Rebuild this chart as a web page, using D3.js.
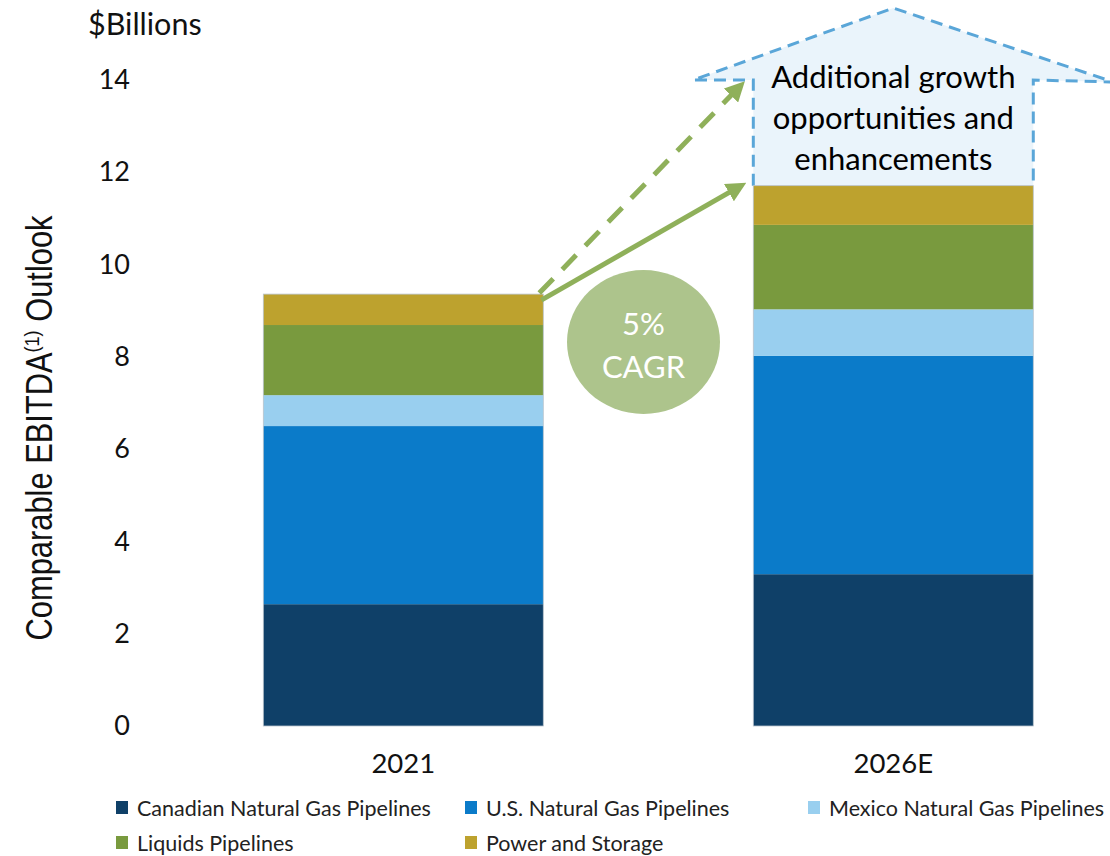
<!DOCTYPE html>
<html>
<head>
<meta charset="utf-8">
<script src="https://cdn.jsdelivr.net/npm/d3@7"></script>
<style>
  html, body { margin: 0; padding: 0; background: #fff; }
  svg { display: block; }
</style>
</head>
<body>
<svg id="chart" width="1110" height="856"></svg>
<script>
// Comparable EBITDA outlook by business segment ($ billions)
const years = ["2021", "2026E"];
const segments = [
  "Canadian Natural Gas Pipelines",
  "U.S. Natural Gas Pipelines",
  "Mexico Natural Gas Pipelines",
  "Liquids Pipelines",
  "Power and Storage"
];
const canadianGas = [2.64, 3.29];
const usGas       = [3.86, 4.73];
const mexicoGas   = [0.67, 1.01];
const liquids     = [1.52, 1.83];
const power       = [0.67, 0.85];
const yTicks = [0, 2, 4, 6, 8, 10, 12, 14];
const segColors = ["#0f4068", "#0b7bc9", "#99cfef", "#799a3e", "#bda22e"];
const growthText = ["Additional growth", "opportunities and", "enhancements"];
const cagrText = ["5%", "CAGR"];

const seriesValues = [canadianGas, usGas, mexicoGas, liquids, power];
const rows = years.map((yr, i) => {
  const r = { year: yr };
  segments.forEach((s, k) => { r[s] = seriesValues[k][i]; });
  return r;
});
const stacked = d3.stack().keys(segments)(rows);
const totals = rows.map(r => d3.sum(segments, s => r[s]));

const svg = d3.select("#chart");
const bodyFont = "Lato, 'Open Sans', sans-serif";

const x = d3.scaleBand()
  .domain(years)
  .range([53.3, 1243.3])
  .paddingInner(0.4286)
  .paddingOuter(0.4286);

const y = d3.scaleLinear().domain([0, 14]).range([726, 80]);

// Upward block arrow behind the 2026E bar (growth opportunities)
const bx0 = x("2026E"), bx1 = x("2026E") + x.bandwidth();
const bodyBottom = y(totals[1]);
const wingY = y(14);
const apexY = y(15.56);
const apexX = bx0 + x.bandwidth() / 2;
const wingSpan = 200;
const blockPts = [
  [bx0, bodyBottom], [bx0, wingY], [apexX - wingSpan, wingY],
  [apexX, apexY], [apexX + wingSpan + 20, wingY + 2], [bx1, wingY], [bx1, bodyBottom]
];
svg.append("path")
  .attr("d", d3.line()(blockPts))
  .attr("fill", "#eaf4fb")
  .attr("stroke", "#5aa6d8")
  .attr("stroke-width", 3)
  .attr("stroke-dasharray", "12,7");

svg.append("g").selectAll("text")
  .data(growthText)
  .join("text")
  .attr("x", apexX)
  .attr("y", (d, i) => 88 + i * 41)
  .attr("text-anchor", "middle")
  .attr("font-family", bodyFont)
  .attr("font-size", 31)
  .attr("fill", "#000")
  .text(d => d);

// Stacked bars
const layer = svg.append("g").selectAll("g")
  .data(stacked)
  .join("g")
  .attr("fill", (d, i) => segColors[i]);

layer.selectAll("rect")
  .data(d => d)
  .join("rect")
  .attr("x", d => x(d.data.year))
  .attr("width", x.bandwidth())
  .attr("y", d => y(d[1]))
  .attr("height", d => y(d[0]) - y(d[1]));

// thin outline around each full bar
svg.append("g").selectAll("rect")
  .data(rows)
  .join("rect")
  .attr("x", d => x(d.year))
  .attr("width", x.bandwidth())
  .attr("y", (d, i) => y(totals[i]))
  .attr("height", (d, i) => y(0) - y(totals[i]))
  .attr("fill", "none")
  .attr("stroke", "#b9c3cc")
  .attr("stroke-width", 0.8);

// CAGR arrows
const green = "#8fb05a";
const defs = svg.append("defs");
defs.append("marker")
  .attr("id", "head")
  .attr("viewBox", "0 0 10 10")
  .attr("refX", 6).attr("refY", 5)
  .attr("markerWidth", 4).attr("markerHeight", 4)
  .attr("orient", "auto")
  .attr("markerUnits", "strokeWidth")
  .append("path")
  .attr("d", "M0,0 L10,5 L0,10 Z")
  .attr("fill", green);

const sx = x("2021") + x.bandwidth() - 2;
const sy = y(totals[0]);
const ex = x("2026E") - 14;

svg.append("line")
  .attr("x1", sx).attr("y1", sy + 6)
  .attr("x2", ex).attr("y2", y(totals[1]) + 1)
  .attr("stroke", green).attr("stroke-width", 5)
  .attr("marker-end", "url(#head)");

svg.append("line")
  .attr("x1", sx - 2).attr("y1", sy - 1)
  .attr("x2", ex).attr("y2", y(13.85))
  .attr("stroke", green).attr("stroke-width", 5)
  .attr("stroke-dasharray", "20,13")
  .attr("marker-end", "url(#head)");

// CAGR bubble
svg.append("ellipse")
  .attr("cx", 643.5).attr("cy", 342)
  .attr("rx", 76.5).attr("ry", 72)
  .attr("fill", "#adc48c");

svg.append("g").selectAll("text")
  .data(cagrText)
  .join("text")
  .attr("x", 643.5)
  .attr("y", (d, i) => 335 + i * 43)
  .attr("text-anchor", "middle")
  .attr("font-family", bodyFont)
  .attr("font-size", 31)
  .attr("fill", "#ffffff")
  .text(d => d);

// Y axis (labels only)
const yAxis = svg.append("g")
  .attr("transform", "translate(138,0)")
  .call(d3.axisLeft(y).tickValues(yTicks).tickSize(0).tickPadding(8));
yAxis.select(".domain").remove();
yAxis.selectAll("text")
  .attr("font-family", bodyFont)
  .attr("font-size", 27)
  .attr("fill", "#111");

// X axis (labels only)
const xAxis = svg.append("g")
  .attr("transform", "translate(0,745)")
  .call(d3.axisBottom(x).tickSize(0).tickPadding(8));
xAxis.select(".domain").remove();
xAxis.selectAll("text")
  .attr("font-family", bodyFont)
  .attr("font-size", 27.5)
  .attr("fill", "#111");

// Unit label
svg.append("text")
  .attr("x", 88).attr("y", 35)
  .attr("font-family", bodyFont)
  .attr("font-size", 30.5)
  .attr("fill", "#111")
  .text("$Billions");

// Y axis title (narrow, tall lettering)
const yTitle = svg.append("text")
  .attr("transform", "translate(52,428) rotate(-90)")
  .attr("text-anchor", "middle")
  .attr("font-family", "'Liberation Sans', Arial, sans-serif")
  .attr("font-size", 36)
  .attr("textLength", 425)
  .attr("lengthAdjust", "spacingAndGlyphs")
  .attr("fill", "#111");
yTitle.append("tspan").text("Comparable EBITDA");
yTitle.append("tspan").attr("font-size", 21).attr("dy", -13).text("(1)");
yTitle.append("tspan").attr("dy", 13).text(" Outlook");

// Legend
const legendPos = [
  [116, 808], [465, 808], [808, 808],
  [116, 843], [465, 843]
];
const legend = svg.append("g").selectAll("g")
  .data(segments)
  .join("g")
  .attr("transform", (d, i) => `translate(${legendPos[i][0]},${legendPos[i][1]})`);
legend.append("rect")
  .attr("x", 0).attr("y", -7)
  .attr("width", 12).attr("height", 13)
  .attr("fill", (d, i) => segColors[i]);
legend.append("text")
  .attr("x", 21).attr("y", 7.5)
  .attr("font-family", bodyFont)
  .attr("font-size", 21.5)
  .attr("fill", "#222")
  .text(d => d);
</script>
</body>
</html>
